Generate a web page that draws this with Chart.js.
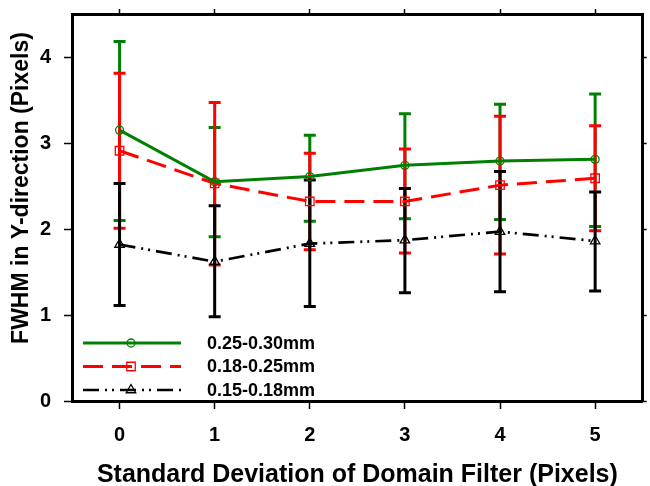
<!DOCTYPE html>
<html lang="en">
<head>
    <meta charset="UTF-8">
    <title>FWHM vs Domain Filter</title>
    <style>
        body {
            margin: 0;
            background: #fff;
        }
        .chart-box {
            width: 650px;
            height: 486px;
        }
    </style>
    <script src="https://cdn.jsdelivr.net/npm/chart.js"></script>
</head>
<body>
    <div class="chart-box">
        <canvas id="fwhmChart" width="650" height="486"></canvas>
    </div>

    <script>
        // Filter standard deviation (pixels)
        const xVals = [0, 1, 2, 3, 4, 5];
        const xTicks = [0, 1, 2, 3, 4, 5];
        const yTicks = [0, 1, 2, 3, 4];

        const seriesLabels = ['0.25-0.30mm', '0.18-0.25mm', '0.15-0.18mm'];

        // 0.25-0.30mm
        const meanA  = [3.15, 2.55, 2.61, 2.74, 2.79, 2.81];
        const upperA = [4.18, 3.18, 3.09, 3.34, 3.45, 3.57];
        const lowerA = [2.10, 1.91, 2.09, 2.12, 2.11, 2.03];

        // 0.18-0.25mm
        const meanB  = [2.91, 2.53, 2.32, 2.32, 2.51, 2.59];
        const upperB = [3.81, 3.47, 2.88, 2.93, 3.31, 3.20];
        const lowerB = [2.01, 1.58, 1.76, 1.72, 1.71, 1.98];

        // 0.15-0.18mm
        const meanC  = [1.82, 1.62, 1.83, 1.87, 1.97, 1.86];
        const upperC = [2.53, 2.27, 2.57, 2.47, 2.67, 2.43];
        const lowerC = [1.11, 0.98, 1.10, 1.26, 1.27, 1.28];

        const bandHigh = [upperA, upperB, upperC];
        const bandLow = [lowerA, lowerB, lowerC];

        const FONT = '"Liberation Sans", Arial, sans-serif';

        function points(vals) {
            return vals.map((v, i) => ({ x: xVals[i], y: v }));
        }

        // fixed axis box size, no extra room for overhanging labels
        function fixSize(prop, size) {
            return s => {
                s[prop] = size;
                s.paddingTop = s.paddingBottom = s.paddingLeft = s.paddingRight = 0;
            };
        }

        // vertical error bars with caps, drawn in dataset order (black ends up on top)
        const errorBars = {
            id: 'errorBars',
            beforeDatasetsDraw(chart) {
                const { ctx, scales: { x, y } } = chart;
                chart.data.datasets.forEach((ds, i) => {
                    ctx.save();
                    ctx.strokeStyle = ds.borderColor;
                    ctx.lineWidth = 3;
                    xVals.forEach((xv, j) => {
                        const px = x.getPixelForValue(xv);
                        const top = y.getPixelForValue(bandHigh[i][j]);
                        const bot = y.getPixelForValue(bandLow[i][j]);
                        ctx.beginPath();
                        ctx.moveTo(px, top);
                        ctx.lineTo(px, bot);
                        ctx.moveTo(px - 6, top);
                        ctx.lineTo(px + 6, top);
                        ctx.moveTo(px - 6, bot);
                        ctx.lineTo(px + 6, bot);
                        ctx.stroke();
                    });
                    ctx.restore();
                });
            }
        };

        // legend box in the lower-left corner of the plot
        const legendKey = {
            id: 'legendKey',
            afterDatasetsDraw(chart) {
                const { ctx, chartArea: a } = chart;
                const n = chart.data.datasets.length;
                chart.data.datasets.forEach((ds, i) => {
                    const yy = a.bottom - 11 - 23.5 * (n - 1 - i);
                    ctx.save();
                    ctx.strokeStyle = ds.borderColor;
                    ctx.lineWidth = ds.borderWidth;
                    ctx.setLineDash(ds.borderDash || []);
                    ctx.beginPath();
                    ctx.moveTo(a.left + 11, yy);
                    ctx.lineTo(a.left + 109, yy);
                    ctx.stroke();

                    ctx.setLineDash([]);
                    ctx.fillStyle = 'rgba(0,0,0,0)';
                    ctx.lineWidth = ds.pointBorderWidth;
                    Chart.helpers.drawPoint(ctx, {
                        pointStyle: ds.pointStyle,
                        radius: ds.pointRadius,
                        borderWidth: ds.pointBorderWidth,
                        rotation: 0
                    }, a.left + 59, yy);

                    ctx.fillStyle = '#000';
                    ctx.font = 'bold 18px ' + FONT;
                    ctx.textBaseline = 'middle';
                    ctx.textAlign = 'left';
                    ctx.fillText(ds.label, a.left + 135, yy + 1);
                    ctx.restore();
                });
            }
        };

        // axis titles
        const axisTitles = {
            id: 'axisTitles',
            afterDraw(chart) {
                const { ctx, chartArea: a } = chart;
                ctx.save();
                ctx.fillStyle = '#000';
                ctx.textAlign = 'center';
                ctx.textBaseline = 'middle';
                ctx.font = 'bold 25px ' + FONT;
                ctx.fillText('Standard Deviation of Domain Filter (Pixels)', (a.left + a.right) / 2, 475);
                ctx.translate(22, 188);
                ctx.rotate(-Math.PI / 2);
                ctx.font = 'bold 23px ' + FONT;
                ctx.fillText('FWHM in Y-direction (Pixels)', 0, 0);
                ctx.restore();
            }
        };

        const tickFont = { family: FONT, size: 20, weight: 'bold' };

        function frameAxis(extra) {
            return Object.assign({
                type: 'linear',
                border: { width: 3, color: '#000' }
            }, extra);
        }

        const ctx = document.getElementById('fwhmChart').getContext('2d');
        const chart = new Chart(ctx, {
            type: 'line',
            data: {
                datasets: [
                    {
                        label: seriesLabels[0],
                        data: points(meanA),
                        borderColor: '#008000',
                        borderWidth: 3,
                        pointStyle: 'circle',
                        pointRadius: 4,
                        pointBorderWidth: 1.3,
                        pointBackgroundColor: 'rgba(0,0,0,0)',
                        pointBorderColor: '#008000'
                    },
                    {
                        label: seriesLabels[1],
                        data: points(meanB),
                        borderColor: '#ff0000',
                        borderWidth: 3,
                        borderDash: [20, 9],
                        pointStyle: 'rect',
                        pointRadius: 6,
                        pointBorderWidth: 1.3,
                        pointBackgroundColor: 'rgba(0,0,0,0)',
                        pointBorderColor: '#ff0000'
                    },
                    {
                        label: seriesLabels[2],
                        data: points(meanC),
                        borderColor: '#000000',
                        borderWidth: 2.7,
                        borderDash: [16, 6, 2, 5, 2, 6],
                        pointStyle: 'triangle',
                        pointRadius: 5.5,
                        pointBorderWidth: 1.3,
                        pointBackgroundColor: 'rgba(0,0,0,0)',
                        pointBorderColor: '#000000'
                    }
                ]
            },
            options: {
                responsive: false,
                animation: false,
                layout: { padding: 0 },
                plugins: {
                    legend: { display: false },
                    tooltip: { enabled: false }
                },
                elements: { line: { tension: 0 } },
                scales: {
                    x: frameAxis({
                        position: 'bottom',
                        min: -0.5,
                        max: 5.5,
                        afterBuildTicks: s => { s.ticks = xTicks.map(v => ({ value: v })); },
                        afterFit: fixSize('height', 85),
                        grid: { drawOnChartArea: false, tickLength: 8, tickWidth: 1.5, tickColor: '#000' },
                        ticks: { color: '#000', font: tickFont, padding: 14, maxRotation: 0 }
                    }),
                    x2: frameAxis({
                        position: 'top',
                        min: -0.5,
                        max: 5.5,
                        afterBuildTicks: s => { s.ticks = xTicks.map(v => ({ value: v })); },
                        afterFit: fixSize('height', 14),
                        grid: { drawOnChartArea: false, tickLength: 5, tickWidth: 1.5, tickColor: '#000' },
                        ticks: { display: false }
                    }),
                    y: frameAxis({
                        position: 'left',
                        min: 0,
                        max: 4.5,
                        afterBuildTicks: s => { s.ticks = yTicks.map(v => ({ value: v })); },
                        afterFit: fixSize('width', 72),
                        grid: { drawOnChartArea: false, tickLength: 8, tickWidth: 1.5, tickColor: '#000' },
                        ticks: { color: '#000', font: tickFont, padding: 13 }
                    }),
                    y2: frameAxis({
                        position: 'right',
                        min: 0,
                        max: 4.5,
                        afterBuildTicks: s => { s.ticks = yTicks.map(v => ({ value: v })); },
                        afterFit: fixSize('width', 4),
                        grid: { drawOnChartArea: false, tickLength: 4, tickWidth: 1.5, tickColor: '#000' },
                        ticks: { display: false }
                    })
                }
            },
            plugins: [errorBars, legendKey, axisTitles]
        });
    </script>
</body>
</html>
